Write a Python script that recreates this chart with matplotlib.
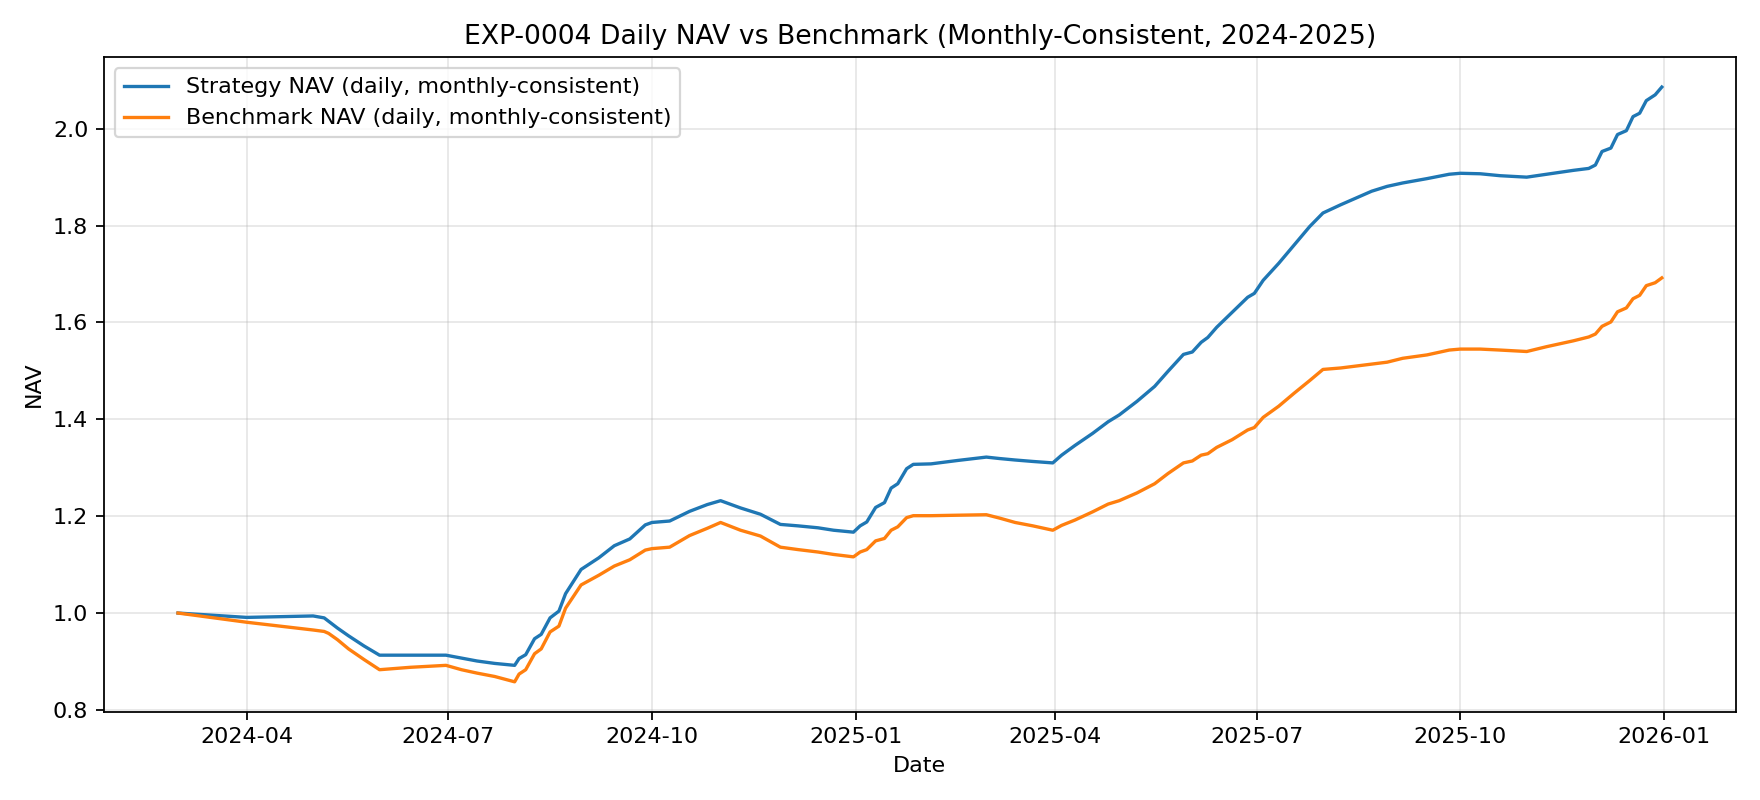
import matplotlib
matplotlib.use("Agg")
import matplotlib.pyplot as plt
import pandas as pd

# dates and NAV values
dates = [
    "2024-03-01", "2024-04-01", "2024-05-01", "2024-05-06", "2024-05-08", "2024-05-12",
    "2024-05-17", "2024-05-24", "2024-05-31", "2024-06-14", "2024-06-30", "2024-07-07",
    "2024-07-14", "2024-07-22", "2024-07-31", "2024-08-02", "2024-08-05", "2024-08-09",
    "2024-08-12", "2024-08-16", "2024-08-20", "2024-08-23", "2024-08-30", "2024-09-07",
    "2024-09-14", "2024-09-21", "2024-09-28", "2024-10-01", "2024-10-09", "2024-10-18",
    "2024-10-26", "2024-11-01", "2024-11-10", "2024-11-19", "2024-11-28", "2024-12-06",
    "2024-12-15", "2024-12-22", "2024-12-31", "2025-01-03", "2025-01-06", "2025-01-10",
    "2025-01-14", "2025-01-17", "2025-01-20", "2025-01-24", "2025-01-27", "2025-02-04",
    "2025-02-16", "2025-03-01", "2025-03-07", "2025-03-14", "2025-03-22", "2025-03-31",
    "2025-04-04", "2025-04-10", "2025-04-18", "2025-04-25", "2025-04-30", "2025-05-08",
    "2025-05-16", "2025-05-22", "2025-05-29", "2025-06-02", "2025-06-06", "2025-06-09",
    "2025-06-13", "2025-06-20", "2025-06-27", "2025-06-30", "2025-07-04", "2025-07-11",
    "2025-07-18", "2025-07-25", "2025-07-31", "2025-08-08", "2025-08-15", "2025-08-22",
    "2025-08-29", "2025-09-05", "2025-09-16", "2025-09-26", "2025-10-01", "2025-10-10",
    "2025-10-19", "2025-10-31", "2025-11-09", "2025-11-21", "2025-11-28", "2025-12-01",
    "2025-12-04", "2025-12-08", "2025-12-11", "2025-12-15", "2025-12-18", "2025-12-21",
    "2025-12-24", "2025-12-28", "2025-12-31",
]

strategy_nav = [
    1.000, 0.991, 0.994, 0.990, 0.983, 0.969,
    0.953, 0.932, 0.913, 0.913, 0.913, 0.907,
    0.901, 0.896, 0.892, 0.906, 0.914, 0.947,
    0.956, 0.990, 1.004, 1.040, 1.090, 1.114,
    1.139, 1.153, 1.182, 1.187, 1.190, 1.210,
    1.224, 1.232, 1.217, 1.204, 1.183, 1.180,
    1.176, 1.171, 1.167, 1.180, 1.188, 1.218,
    1.228, 1.258, 1.267, 1.298, 1.307, 1.308,
    1.315, 1.322, 1.319, 1.316, 1.313, 1.310,
    1.326, 1.346, 1.371, 1.395, 1.409, 1.437,
    1.468, 1.499, 1.534, 1.539, 1.559, 1.569,
    1.590, 1.621, 1.652, 1.660, 1.687, 1.722,
    1.760, 1.798, 1.826, 1.843, 1.857, 1.871,
    1.881, 1.888, 1.897, 1.906, 1.908, 1.907,
    1.903, 1.900, 1.906, 1.914, 1.918, 1.925,
    1.953, 1.960, 1.988, 1.996, 2.025, 2.032,
    2.058, 2.070, 2.086,
]

benchmark_nav = [
    1.000, 0.981, 0.965, 0.962, 0.958, 0.945,
    0.926, 0.904, 0.883, 0.888, 0.892, 0.883,
    0.876, 0.869, 0.858, 0.874, 0.883, 0.916,
    0.926, 0.961, 0.973, 1.010, 1.058, 1.078,
    1.097, 1.110, 1.130, 1.133, 1.136, 1.160,
    1.175, 1.187, 1.171, 1.159, 1.136, 1.131,
    1.126, 1.121, 1.116, 1.126, 1.131, 1.149,
    1.154, 1.171, 1.178, 1.197, 1.201, 1.201,
    1.202, 1.203, 1.196, 1.187, 1.180, 1.171,
    1.181, 1.192, 1.209, 1.225, 1.232, 1.248,
    1.267, 1.288, 1.310, 1.314, 1.326, 1.329,
    1.342, 1.358, 1.378, 1.383, 1.404, 1.427,
    1.454, 1.480, 1.503, 1.506, 1.510, 1.514,
    1.518, 1.526, 1.533, 1.543, 1.545, 1.545,
    1.543, 1.540, 1.550, 1.562, 1.570, 1.576,
    1.592, 1.601, 1.622, 1.630, 1.649, 1.656,
    1.676, 1.682, 1.692,
]

x = pd.to_datetime(dates)

fig, ax = plt.subplots(figsize=(11, 5), dpi=160)
ax.plot(x, strategy_nav, label="Strategy NAV (daily, monthly-consistent)")
ax.plot(x, benchmark_nav, label="Benchmark NAV (daily, monthly-consistent)")
ax.set_title("EXP-0004 Daily NAV vs Benchmark (Monthly-Consistent, 2024-2025)")
ax.set_xlabel("Date")
ax.set_ylabel("NAV")
ax.grid(True, alpha=0.3)
ax.legend(loc="upper left")
fig.tight_layout()
fig.savefig("out.png", dpi=160)
